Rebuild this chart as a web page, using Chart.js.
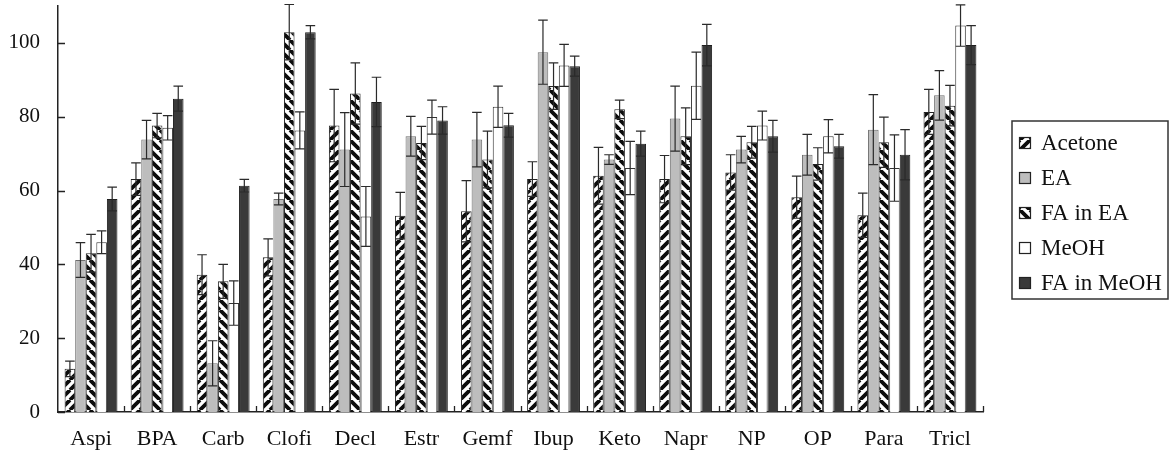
<!DOCTYPE html>
<html>
<head>
<meta charset="utf-8">
<script src="https://cdn.jsdelivr.net/npm/chart.js@4.4.1/dist/chart.umd.min.js"></script>
<style>
  html, body { margin: 0; padding: 0; background: #fff; }
  #wrap { width: 1173px; height: 469px; }
</style>
</head>
<body>
<div id="wrap"><canvas id="chart" width="1173" height="469"></canvas></div>
<script>
const categories = ["Aspi", "BPA", "Carb", "Clofi", "Decl", "Estr", "Gemf", "Ibup", "Keto", "Napr", "NP", "OP", "Para", "Tricl"];
const seriesNames = ["Acetone", "EA", "FA in EA", "MeOH", "FA in MeOH"];

const acetone = [11.7, 63.1, 37.2, 41.9, 77.6, 53.2, 54.4, 63.1, 64.0, 63.1, 64.9, 58.2, 53.3, 81.3];
const acetoneErr = [2.1, 4.4, 5.4, 5.0, 9.8, 6.3, 8.3, 4.7, 7.7, 6.4, 4.8, 5.7, 6.0, 6.1];
const ea = [41.2, 73.8, 13.2, 57.7, 71.1, 74.7, 73.8, 97.5, 68.4, 79.5, 71.1, 69.7, 76.5, 85.8];
const eaErr = [4.7, 5.2, 6.1, 1.6, 10.0, 5.4, 7.4, 8.7, 1.3, 8.8, 3.6, 5.5, 9.5, 6.7];
const faEa = [43.0, 77.6, 35.4, 102.9, 86.3, 72.9, 68.4, 88.3, 82.0, 74.7, 73.1, 67.2, 73.1, 83.0];
const faEaErr = [5.1, 3.3, 4.6, 7.5, 8.3, 4.5, 7.7, 6.3, 2.5, 7.7, 4.3, 4.4, 6.8, 5.5];
const meoh = [46.0, 77.0, 29.5, 76.3, 53.0, 79.9, 82.7, 93.9, 66.1, 88.4, 77.6, 74.7, 66.1, 104.7];
const meohErr = [3.1, 3.3, 6.0, 5.0, 8.1, 4.6, 5.6, 5.7, 7.2, 9.1, 3.9, 4.5, 9.0, 5.6];
const faMeoh = [57.7, 84.9, 61.3, 102.9, 84.0, 79.0, 77.7, 93.7, 72.7, 99.4, 74.7, 72.0, 69.7, 99.4];
const faMeohErr = [3.2, 3.4, 1.7, 1.8, 6.7, 3.7, 3.2, 2.7, 3.4, 5.6, 4.3, 3.2, 6.8, 5.3];

const yTicks = [0, 20, 40, 60, 80, 100];

const serif = "'Liberation Serif', 'DejaVu Serif', serif";

// diagonal hatch fill, "/" or "\"
function stripes(dir) {
    const s = 10;
    const c = document.createElement("canvas");
    c.width = s; c.height = s;
    const g = c.getContext("2d");
    g.fillStyle = "#fff";
    g.fillRect(0, 0, s, s);
    g.strokeStyle = "#0d0d0d";
    g.lineWidth = 3.8;
    g.beginPath();
    for (let k = -1; k <= 1; k++) {
        if (dir === "/") {
            g.moveTo(k * s, s);
            g.lineTo(k * s + s, 0);
        } else {
            g.moveTo(k * s, 0);
            g.lineTo(k * s + s, s);
        }
    }
    g.stroke();
    return document.getElementById("chart").getContext("2d").createPattern(c, "repeat");
}

const fills = [stripes("/"), "#bdbdbd", stripes("\\"), "#ffffff", "#3a3a3a"];
const borders = ["#222", "#6e6e6e", "#222", "#333", "#1e1e1e"];
const values = [acetone, ea, faEa, meoh, faMeoh];
const errors = [acetoneErr, eaErr, faEaErr, meohErr, faMeohErr];

const errorBars = {
    id: "errorBars",
    afterDatasetsDraw(chart) {
        const ctx = chart.ctx;
        const y = chart.scales.y;
        ctx.save();
        ctx.strokeStyle = "#2a2a2a";
        ctx.lineWidth = 1.2;
        chart.data.datasets.forEach((ds, di) => {
            const meta = chart.getDatasetMeta(di);
            meta.data.forEach((bar, i) => {
                const v = ds.data[i], e = errors[di][i];
                const top = y.getPixelForValue(v + e);
                const bot = y.getPixelForValue(v - e);
                const half = bar.width / 2 - 0.5;
                ctx.beginPath();
                ctx.moveTo(bar.x, top); ctx.lineTo(bar.x, bot);
                ctx.moveTo(bar.x - half, top); ctx.lineTo(bar.x + half, top);
                ctx.moveTo(bar.x - half, bot); ctx.lineTo(bar.x + half, bot);
                ctx.stroke();
            });
        });
        ctx.restore();
    }
};

const axisTicks = {
    id: "axisTicks",
    afterDraw(chart) {
        const ctx = chart.ctx;
        const x = chart.scales.x, y = chart.scales.y;
        const area = chart.chartArea;
        ctx.save();
        ctx.strokeStyle = "#222";
        ctx.lineWidth = 1.3;
        ctx.beginPath();
        yTicks.forEach(t => {
            const py = Math.round(y.getPixelForValue(t)) + 0.5;
            ctx.moveTo(area.left, py);
            ctx.lineTo(area.left + 7, py);
        });
        for (let i = 0; i < categories.length; i++) {
            const px = i < categories.length - 1
                ? (x.getPixelForValue(i) + x.getPixelForValue(i + 1)) / 2
                : area.right;
            ctx.moveTo(Math.round(px) + 0.5, area.bottom);
            ctx.lineTo(Math.round(px) + 0.5, area.bottom - 6);
        }
        ctx.stroke();

        // legend box
        const lx = 1012, ly = 121, lw = 156, lh = 178;
        ctx.lineWidth = 1.5;
        ctx.strokeStyle = "#333";
        ctx.strokeRect(lx, ly, lw, lh);
        ctx.font = "23px " + serif;
        ctx.textBaseline = "middle";
        seriesNames.forEach((name, i) => {
            const cy = 143 + i * 35;
            ctx.fillStyle = fills[i];
            ctx.fillRect(lx + 7, cy - 6, 12, 12);
            ctx.lineWidth = 1.2;
            ctx.strokeStyle = "#222";
            ctx.strokeRect(lx + 7.5, cy - 5.5, 11, 11);
            ctx.fillStyle = "#111";
            ctx.fillText(name, lx + 29, cy + 1);
        });
        ctx.restore();
    }
};

new Chart(document.getElementById("chart"), {
    type: "bar",
    data: {
        labels: categories,
        datasets: seriesNames.map((name, i) => ({
            label: name,
            data: values[i],
            backgroundColor: fills[i],
            borderColor: borders[i],
            borderWidth: 1,
            categoryPercentage: 0.8,
            barPercentage: 1.0
        }))
    },
    options: {
        responsive: false,
        animation: false,
        devicePixelRatio: 1,
        layout: { padding: { top: 6, right: 190, left: 0, bottom: 0 } },
        plugins: {
            legend: { display: false },
            tooltip: { enabled: false }
        },
        scales: {
            x: {
                grid: { display: false, drawTicks: false },
                border: { display: true, color: "#222", width: 1.5 },
                ticks: { color: "#111", font: { family: serif, size: 22 }, padding: 14, maxRotation: 0 },
                afterFit(scale) {
                    scale.height = 57;
                    scale.paddingLeft = 0;
                    scale.paddingRight = 0;
                }
            },
            y: {
                min: 0,
                max: 110,
                grid: { display: false, drawTicks: false },
                border: { display: true, color: "#222", width: 1.5 },
                ticks: { color: "#111", font: { family: serif, size: 21 }, padding: 18 },
                afterBuildTicks(scale) { scale.ticks = yTicks.map(v => ({ value: v })); },
                afterFit(scale) {
                    scale.width = 58;
                    scale.paddingTop = 0;
                    scale.paddingBottom = 0;
                }
            }
        }
    },
    plugins: [errorBars, axisTicks]
});
</script>
</body>
</html>
